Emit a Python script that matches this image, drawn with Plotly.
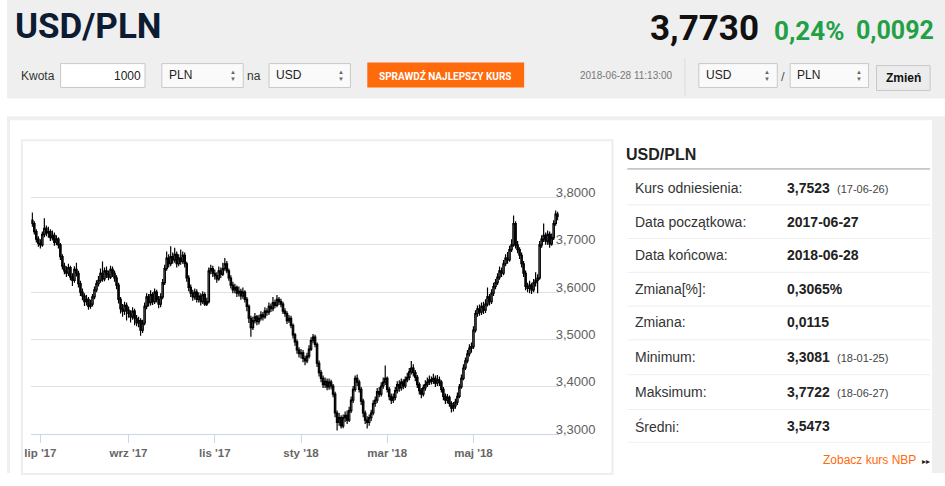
import pandas as pd
import plotly.graph_objects as go

# ---------------- data ----------------
close = [
    3.745, 3.728, 3.712, 3.703,
    3.700, 3.722, 3.735, 3.725, 3.728, 3.715, 3.720, 3.705, 3.712, 3.700, 3.675, 3.655, 3.645, 3.640, 3.652, 3.632, 3.625, 3.648, 3.640, 3.618, 3.600,
    3.592, 3.580, 3.585, 3.570, 3.575, 3.590, 3.605, 3.618, 3.625, 3.640, 3.628, 3.645, 3.638, 3.632, 3.648, 3.640, 3.630, 3.615, 3.585, 3.565, 3.560, 3.572, 3.562,
    3.555, 3.548, 3.560, 3.545, 3.535, 3.540, 3.520, 3.535, 3.570, 3.590, 3.578, 3.595, 3.580, 3.600, 3.585, 3.575, 3.590, 3.620, 3.650, 3.672, 3.660,
    3.675, 3.668, 3.680, 3.660, 3.672, 3.665, 3.678, 3.660, 3.630, 3.610, 3.598, 3.590, 3.600, 3.585, 3.592, 3.580, 3.595, 3.575, 3.580, 3.645, 3.650, 3.640,
    3.635, 3.628, 3.645, 3.638, 3.650, 3.660, 3.645, 3.630, 3.615, 3.605, 3.610, 3.598, 3.602, 3.592, 3.600, 3.585, 3.570, 3.545, 3.525, 3.540, 3.548, 3.538,
    3.545, 3.552, 3.548, 3.560, 3.558, 3.570, 3.565, 3.578, 3.572, 3.585, 3.580, 3.575, 3.560, 3.555, 3.540, 3.545, 3.530, 3.510, 3.495, 3.478, 3.470,
    3.472, 3.460, 3.455, 3.465, 3.480, 3.498, 3.505, 3.490, 3.450, 3.430, 3.418, 3.405, 3.412, 3.400, 3.410, 3.402, 3.385, 3.345, 3.325, 3.335, 3.318, 3.335, 3.340,
    3.330, 3.350, 3.372, 3.395, 3.418, 3.410, 3.395, 3.370, 3.345, 3.330, 3.325, 3.335, 3.345, 3.365, 3.372, 3.390, 3.385, 3.402, 3.410, 3.418,
    3.395, 3.380, 3.372, 3.378, 3.392, 3.405, 3.398, 3.410, 3.402, 3.415, 3.420, 3.432, 3.440, 3.430, 3.420, 3.405, 3.392, 3.385, 3.398, 3.405, 3.410, 3.415,
    3.412, 3.418, 3.408, 3.415, 3.410, 3.395, 3.380, 3.372, 3.378, 3.365, 3.355, 3.360, 3.368, 3.380, 3.400, 3.418, 3.440, 3.455, 3.470, 3.482, 3.485,
    3.520, 3.555, 3.565, 3.558, 3.570, 3.562, 3.575, 3.590, 3.580, 3.598, 3.612, 3.620, 3.632, 3.645, 3.640, 3.660, 3.672, 3.668, 3.690, 3.700, 3.745, 3.700, 3.690,
    3.678, 3.660, 3.640, 3.612, 3.608, 3.615, 3.605, 3.620, 3.625, 3.630, 3.700, 3.712, 3.720, 3.708, 3.722, 3.702, 3.715, 3.745, 3.765, 3.760,
]
high = [
    3.768, 3.750, 3.733, 3.718,
    3.712, 3.728, 3.756, 3.741, 3.738, 3.733, 3.730, 3.726, 3.720, 3.716, 3.704, 3.680, 3.662, 3.655, 3.660, 3.656, 3.640, 3.655, 3.662, 3.645, 3.624,
    3.608, 3.598, 3.594, 3.590, 3.584, 3.596, 3.612, 3.625, 3.634, 3.650, 3.665, 3.652, 3.654, 3.646, 3.656, 3.654, 3.646, 3.636, 3.620, 3.590, 3.575, 3.580, 3.578,
    3.570, 3.562, 3.568, 3.565, 3.552, 3.548, 3.545, 3.542, 3.578, 3.598, 3.596, 3.604, 3.600, 3.608, 3.605, 3.592, 3.598, 3.628, 3.658, 3.686, 3.680,
    3.697, 3.684, 3.694, 3.686, 3.680, 3.690, 3.686, 3.684, 3.664, 3.636, 3.616, 3.605, 3.608, 3.606, 3.600, 3.598, 3.602, 3.600, 3.588, 3.652, 3.658, 3.656,
    3.648, 3.642, 3.654, 3.652, 3.662, 3.672, 3.666, 3.650, 3.636, 3.622, 3.618, 3.614, 3.612, 3.607, 3.610, 3.604, 3.590, 3.574, 3.550, 3.548, 3.556, 3.552,
    3.552, 3.560, 3.558, 3.568, 3.566, 3.578, 3.576, 3.590, 3.584, 3.594, 3.590, 3.586, 3.580, 3.566, 3.560, 3.552, 3.550, 3.534, 3.514, 3.500, 3.484,
    3.480, 3.478, 3.466, 3.472, 3.488, 3.505, 3.512, 3.510, 3.494, 3.456, 3.436, 3.424, 3.420, 3.418, 3.418, 3.415, 3.406, 3.390, 3.350, 3.345, 3.340, 3.342, 3.348,
    3.350, 3.358, 3.380, 3.402, 3.424, 3.426, 3.415, 3.400, 3.375, 3.350, 3.338, 3.342, 3.352, 3.372, 3.380, 3.398, 3.400, 3.410, 3.420, 3.445,
    3.422, 3.400, 3.386, 3.386, 3.400, 3.412, 3.414, 3.418, 3.416, 3.422, 3.430, 3.440, 3.455, 3.448, 3.436, 3.425, 3.410, 3.398, 3.405, 3.414, 3.420, 3.424,
    3.422, 3.428, 3.424, 3.425, 3.422, 3.414, 3.400, 3.386, 3.385, 3.382, 3.370, 3.368, 3.375, 3.388, 3.406, 3.426, 3.448, 3.462, 3.478, 3.490, 3.494,
    3.528, 3.562, 3.572, 3.574, 3.578, 3.580, 3.585, 3.610, 3.596, 3.606, 3.620, 3.628, 3.640, 3.654, 3.652, 3.668, 3.680, 3.685, 3.698, 3.712, 3.762, 3.750, 3.708,
    3.695, 3.684, 3.666, 3.646, 3.620, 3.624, 3.620, 3.628, 3.642, 3.638, 3.708, 3.720, 3.745, 3.726, 3.730, 3.728, 3.724, 3.752, 3.7722, 3.770,
]
low = [
    3.738, 3.722, 3.705, 3.696,
    3.692, 3.696, 3.716, 3.718, 3.715, 3.708, 3.709, 3.698, 3.699, 3.692, 3.668, 3.648, 3.638, 3.632, 3.634, 3.625, 3.613, 3.620, 3.633, 3.610, 3.592,
    3.583, 3.571, 3.572, 3.563, 3.565, 3.570, 3.585, 3.600, 3.612, 3.620, 3.622, 3.623, 3.630, 3.625, 3.628, 3.632, 3.622, 3.606, 3.576, 3.555, 3.548, 3.552, 3.540,
    3.546, 3.536, 3.542, 3.530, 3.528, 3.526, 3.508, 3.514, 3.530, 3.564, 3.570, 3.572, 3.573, 3.575, 3.578, 3.566, 3.568, 3.585, 3.615, 3.645, 3.652,
    3.655, 3.660, 3.662, 3.652, 3.655, 3.658, 3.660, 3.652, 3.622, 3.602, 3.590, 3.582, 3.584, 3.578, 3.578, 3.572, 3.575, 3.571, 3.571, 3.576, 3.638, 3.632,
    3.627, 3.620, 3.624, 3.630, 3.634, 3.645, 3.640, 3.624, 3.608, 3.598, 3.598, 3.590, 3.591, 3.584, 3.586, 3.578, 3.560, 3.535, 3.506, 3.520, 3.534, 3.530,
    3.532, 3.540, 3.540, 3.544, 3.550, 3.552, 3.558, 3.560, 3.566, 3.568, 3.573, 3.568, 3.554, 3.548, 3.533, 3.535, 3.524, 3.502, 3.487, 3.470, 3.462,
    3.460, 3.452, 3.446, 3.450, 3.460, 3.476, 3.492, 3.484, 3.442, 3.422, 3.410, 3.398, 3.398, 3.393, 3.394, 3.395, 3.378, 3.336, 3.3081, 3.318, 3.312, 3.313, 3.326,
    3.322, 3.326, 3.345, 3.366, 3.390, 3.402, 3.388, 3.362, 3.336, 3.322, 3.312, 3.318, 3.328, 3.340, 3.358, 3.366, 3.378, 3.380, 3.396, 3.404,
    3.388, 3.372, 3.364, 3.366, 3.372, 3.386, 3.390, 3.392, 3.395, 3.398, 3.410, 3.414, 3.426, 3.422, 3.412, 3.398, 3.384, 3.376, 3.380, 3.392, 3.400, 3.404,
    3.405, 3.406, 3.400, 3.402, 3.402, 3.388, 3.372, 3.364, 3.365, 3.358, 3.346, 3.348, 3.354, 3.362, 3.376, 3.396, 3.414, 3.436, 3.450, 3.464, 3.472,
    3.480, 3.515, 3.548, 3.550, 3.552, 3.554, 3.556, 3.570, 3.572, 3.575, 3.592, 3.606, 3.615, 3.626, 3.632, 3.636, 3.655, 3.660, 3.664, 3.685, 3.696, 3.692, 3.682,
    3.670, 3.652, 3.632, 3.604, 3.600, 3.598, 3.596, 3.600, 3.612, 3.598, 3.626, 3.694, 3.706, 3.700, 3.700, 3.694, 3.698, 3.710, 3.740, 3.752,
]
first_open = 3.7523
open_ = [first_open] + close[:-1]
dates = [d.strftime("%Y-%m-%d") for d in pd.bdate_range("2017-06-27", "2018-06-28")]

month_tick_dates = ["2017-07-03", "2017-09-01", "2017-11-01", "2018-01-01", "2018-03-01", "2018-05-01"]
month_tick_labels = ["lip '17", "wrz '17", "lis '17", "sty '18", "mar '18", "maj '18"]
y_tick_values = [3.3, 3.4, 3.5, 3.6, 3.7, 3.8, 3.9]
y_tick_labels = ["3,3000", "3,4000", "3,5000", "3,6000", "3,7000", "3,8000", ""]

stat_labels = ["Kurs odniesienia:", "Data początkowa:", "Data końcowa:", "Zmiana[%]:",
               "Zmiana:", "Minimum:", "Maksimum:", "Średni:"]
stat_values = ["3,7523", "2017-06-27", "2018-06-28", "0,3065%", "0,0115", "3,3081", "3,7722", "3,5473"]
stat_dates = ["(17-06-26)", "", "", "", "", "(18-01-25)", "(18-06-27)", ""]

# ---------------- layout helpers ----------------
W, H = 945, 486
ARIAL = "Liberation Sans, Arial, sans-serif"
ROBOTO = "Roboto, sans-serif"
shapes, annotations = [], []


def X(px):
    return px / W


def Y(py):
    return 1 - py / H


def rect(x0, y0, x1, y1, fill, line=None, lw=1, layer="below"):
    shapes.append(dict(type="rect", xref="paper", yref="paper", x0=X(x0), x1=X(x1), y0=Y(y1), y1=Y(y0),
                       fillcolor=fill, line=dict(color=line or "rgba(0,0,0,0)", width=lw if line else 0),
                       layer=layer))


def hline(x0, x1, y, color, w=1):
    shapes.append(dict(type="line", xref="paper", yref="paper", x0=X(x0), x1=X(x1), y0=Y(y), y1=Y(y),
                       line=dict(color=color, width=w), layer="below"))


def vline(x, y0, y1, color, w=1):
    shapes.append(dict(type="line", xref="paper", yref="paper", x0=X(x), x1=X(x), y0=Y(y0), y1=Y(y1),
                       line=dict(color=color, width=w), layer="below"))


def txt(x, y, s, size, color, family=ARIAL, bold=False, xanchor="left"):
    annotations.append(dict(x=X(x), y=Y(y), xref="paper", yref="paper", text=s, showarrow=False,
                            xanchor=xanchor, yanchor="middle",
                            font=dict(size=size, color=color, family=family,
                                      weight="bold" if bold else "normal")))


def select_box(x0, x1, label):
    rect(x0, 64, x1, 88, "#fafafa", "#c8c8c8")
    txt(x0 + 5, 75, label, 12, "#222")
    txt(x1 - 10, 72, "▲", 6, "#666", xanchor="center")
    txt(x1 - 10, 79, "▼", 6, "#666", xanchor="center")


# header
rect(0, 0, W, 99, "#efefef")
txt(6, 27, "USD/PLN", 35, "#0d1b33", ROBOTO, True)
txt(646, 29, "3,7730", 35, "#111111", ROBOTO, True)
txt(771, 31, "0,24%", 26, "#23a046", ROBOTO, True)
txt(853, 31, "0,0092", 25, "#23a046", ROBOTO, True)

txt(12, 76, "Kwota", 12, "#333")
rect(54, 64, 139, 88, "white", "#c8c8c8")
txt(137, 76, "1000", 12, "#222", xanchor="right")
select_box(156, 238, "PLN")
txt(240, 76, "na", 12, "#333")
select_box(264, 346, "USD")
rect(363, 63, 521, 88, "#ff6a0d")
txt(442, 76, "SPRAWDŹ NAJLEPSZY KURS", 10, "white", ROBOTO, True, xanchor="center")
txt(575, 76, "2018-06-28 11:13:00", 10, "#777")
vline(683, 58, 96, "#dddddd")
select_box(697, 776, "USD")
txt(782, 77, "/", 13, "#555", xanchor="center")
select_box(789, 868, "PLN")
rect(876, 66, 930, 91, "#ececec", "#c8c8c8")
txt(903, 78, "Zmień", 12, "#111", bold=True, xanchor="center")

# main panel frame
rect(0, 117, W, 476, "#efefef")
rect(3, 121, 932, 476, "white")
rect(15, 141, 610, 477, "white", "#eeeeee", 2)

# stats panel
txt(622, 155, "USD/PLN", 16, "#222", bold=True)
hline(625, 930, 170, "#999999")
row_y = [189, 223, 257, 291, 324, 359, 394, 429]
sep_y = [206, 240, 274, 308, 342, 377, 412, 445]
for ry, sy, lab, val, dt in zip(row_y, sep_y, stat_labels, stat_values, stat_dates):
    txt(631, ry, lab, 14, "#333")
    txt(784, ry, val, 14, "#222", bold=True)
    if dt:
        txt(834, ry + 1, dt, 11, "#444")
    hline(625, 930, sy, "#eeeeee")
txt(918, 463, "Zobacz kurs NBP", 12, "#ff6a0d", xanchor="right")
txt(926, 464, "▸▸", 8, "#222", xanchor="center")

# ---------------- figure ----------------
fig = go.Figure(go.Candlestick(
    x=dates, open=open_, high=high, low=low, close=close,
    increasing=dict(fillcolor="white", line=dict(color="#000000", width=1.2)),
    decreasing=dict(fillcolor="#0b1a33", line=dict(color="#000000", width=1.2)),
    whiskerwidth=0, hoverinfo="skip", showlegend=False,
))

fig.update_layout(
    width=W, height=H, margin=dict(l=0, r=0, t=0, b=0),
    paper_bgcolor="white", plot_bgcolor="rgba(0,0,0,0)",
    boxgap=0.0,
    shapes=shapes, annotations=annotations, showlegend=False,
    xaxis=dict(
        type="category", domain=[24.5 / W, 555.8 / W], range=[-0.5, len(dates) - 0.5],
        rangeslider=dict(visible=False), showgrid=False, zeroline=False,
        showline=True, linecolor="#ccd6eb", linewidth=1,
        ticks="outside", ticklen=8, tickcolor="#ccd6eb",
        tickvals=month_tick_dates, ticktext=month_tick_labels,
        tickfont=dict(size=11.5, color="#666666", family=ARIAL, weight="bold"),
    ),
    yaxis=dict(
        domain=[1 - 437 / H, 1 - 151 / H], range=[3.3, 3.9], side="right",
        showgrid=True, gridcolor="#e0e0e0", gridwidth=1, zeroline=False, showline=False,
        tickvals=y_tick_values, ticktext=y_tick_labels, ticks="",
        ticklabelshift=-5, ticklabelstandoff=-4,
        tickfont=dict(size=13, color="#606060", family=ARIAL),
    ),
)

fig.write_html(
    "out.html",
    config={"displayModeBar": False, "responsive": False},
    post_script=(
        "document.documentElement.style.margin='0';"
        "document.documentElement.style.overflow='hidden';"
        "document.body.style.margin='0';document.body.style.padding='0';"
        "document.body.style.overflow='hidden';"
        "document.body.style.height='486px';"
    ),
)
